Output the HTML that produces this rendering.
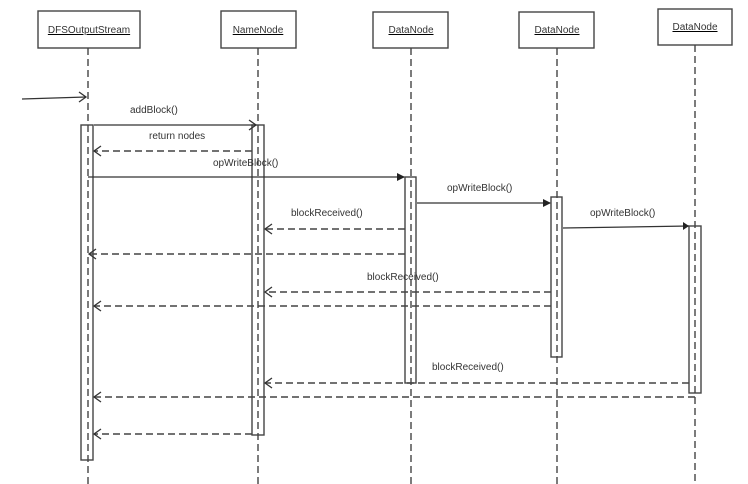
<!DOCTYPE html>
<html><head><style>body{margin:0;background:#fff}svg{display:block}text{font-family:"Liberation Sans",sans-serif;font-size:10px;fill:#333}</style></head><body>
<svg width="748" height="484" viewBox="0 0 748 484" xmlns="http://www.w3.org/2000/svg">
<g fill="#fff" stroke="#444" stroke-width="1.4">
<rect x="38" y="11" width="102" height="37"/>
<rect x="221" y="11" width="75" height="37"/>
<rect x="373" y="12" width="75" height="36"/>
<rect x="519" y="12" width="75" height="36"/>
<rect x="658" y="9" width="74" height="36"/>
</g>
<g text-anchor="middle" text-decoration="underline">
<text x="89" y="33">DFSOutputStream</text>
<text x="258" y="33">NameNode</text>
<text x="411" y="33">DataNode</text>
<text x="557" y="33">DataNode</text>
<text x="695" y="30">DataNode</text>
</g>
<g stroke="#444" stroke-width="1.4" fill="#fff">
<rect x="81" y="125" width="12" height="335"/>
<rect x="252" y="125" width="12" height="310"/>
<rect x="405" y="177" width="11" height="206"/>
<rect x="551" y="197" width="11" height="160"/>
<rect x="689" y="226" width="12" height="167"/>
</g>
<g stroke="#444" stroke-width="1.4" stroke-dasharray="7,4" fill="none">
<line x1="88" y1="48" x2="88" y2="484"/>
<line x1="258" y1="48" x2="258" y2="484"/>
<line x1="411" y1="48" x2="411" y2="484"/>
<line x1="557" y1="48" x2="557" y2="484"/>
<line x1="695" y1="45" x2="695" y2="484"/>
<line x1="252" y1="151" x2="94" y2="151"/>
<line x1="405" y1="229" x2="265" y2="229"/>
<line x1="405" y1="254" x2="89" y2="254"/>
<line x1="551" y1="292" x2="265" y2="292"/>
<line x1="551" y1="306" x2="94" y2="306"/>
<line x1="689" y1="383" x2="265" y2="383"/>
<line x1="695" y1="397" x2="94" y2="397"/>
<line x1="252" y1="434" x2="94" y2="434"/>
</g>
<g stroke="#333" stroke-width="1.3" fill="none">
<line x1="22" y1="99" x2="86" y2="97"/><polyline points="79,92 86,97 79,102"/>
<line x1="94" y1="125" x2="256" y2="125"/><polyline points="249,120 256,125 249,130"/>
<polyline points="101,146 94,151 101,156"/>
<line x1="88" y1="177" x2="404" y2="177"/>
<line x1="417" y1="203" x2="550" y2="203"/>
<line x1="563" y1="228" x2="689" y2="226"/>
<polyline points="272,224 265,229 272,234"/>
<polyline points="96,249 89,254 96,259"/>
<polyline points="272,287 265,292 272,297"/>
<polyline points="101,301 94,306 101,311"/>
<polyline points="272,378 265,383 272,388"/>
<polyline points="101,392 94,397 101,402"/>
<polyline points="101,429 94,434 101,439"/>
</g>
<g fill="#222">
<polygon points="405,177 397,173 397,181"/>
<polygon points="551,203 543,199 543,207"/>
<polygon points="689,226 683,222 683,230"/>
</g>
<text x="130" y="113">addBlock()</text>
<text x="149" y="139">return nodes</text>
<text x="213" y="166">opWriteBlock()</text>
<text x="447" y="191">opWriteBlock()</text>
<text x="590" y="216">opWriteBlock()</text>
<text x="291" y="216">blockReceived()</text>
<text x="367" y="280">blockReceived()</text>
<text x="432" y="370">blockReceived()</text>
</svg>
</body></html>
